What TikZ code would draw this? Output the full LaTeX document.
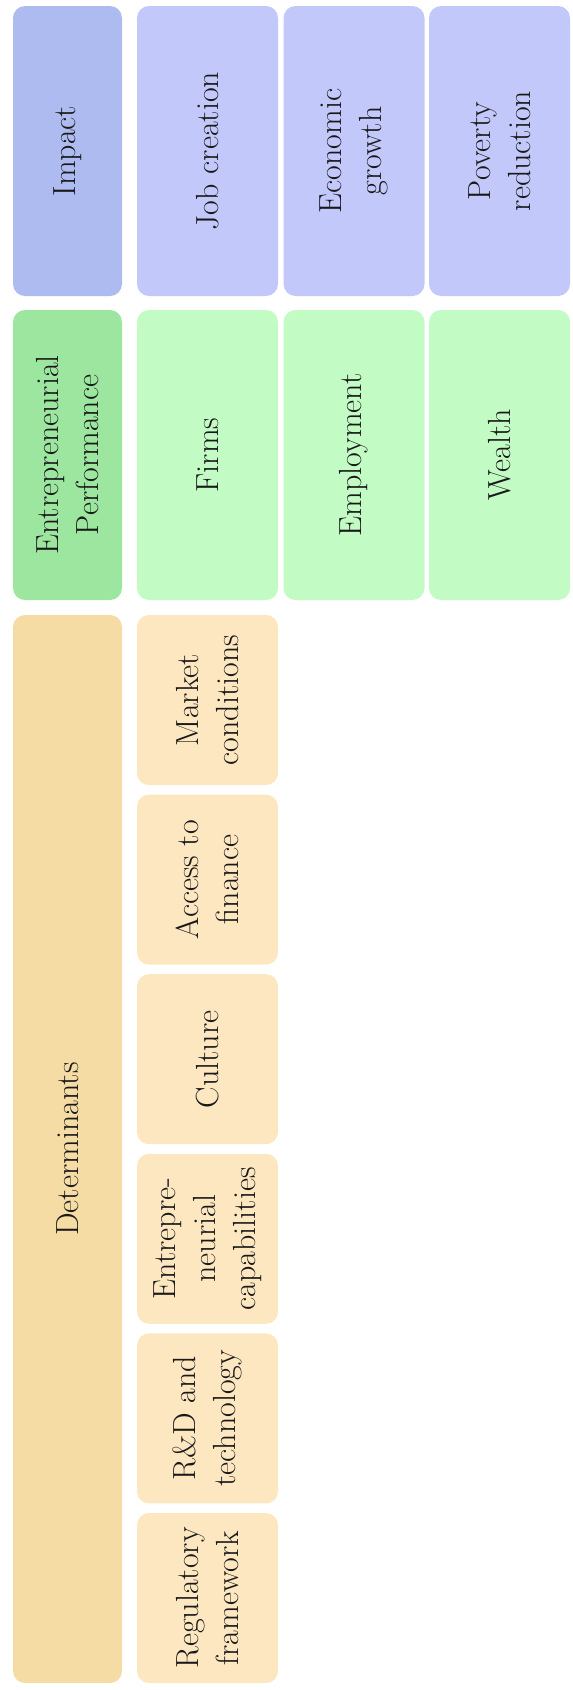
\documentclass[tikz,border=0pt]{standalone}
\usepackage{tikz}
\usetikzlibrary{positioning}
\definecolor{impacthdr}{RGB}{173,187,240}
\definecolor{impactcell}{RGB}{195,200,251}
\definecolor{perfhdr}{RGB}{156,230,160}
\definecolor{perfcell}{RGB}{195,251,197}
\definecolor{dethdr}{RGB}{245,219,164}
\definecolor{detcell}{RGB}{253,231,193}
\definecolor{mytext}{RGB}{25,25,25}
\tikzset{
  cell/.style={rectangle, rounded corners=12pt, draw=none, rotate=90,
    align=center, inner sep=0pt, text=mytext,
    font=\fontsize{32}{40}\selectfont},
  hdr/.style={cell, minimum height=109pt},
  wide/.style={cell, minimum height=141pt}
}

\begin{document}
\begin{tikzpicture}[x=1pt, y=-1pt]
  \useasboundingbox (0,0) rectangle (573,1690);

  % Impact row
  \node[hdr, fill=impacthdr, minimum width=290pt] (impact) at (67.5,151) {Impact};
  \node[wide, fill=impactcell, minimum width=290pt] (jobs) at (207.5,151) {Job creation};
  \node[wide, fill=impactcell, minimum width=290pt] (growth) at (354,151) {Economic\\growth};
  \node[wide, fill=impactcell, minimum width=290pt] (poverty) at (499.5,151) {Poverty\\reduction};

  % Entrepreneurial performance row
  \node[hdr, fill=perfhdr, minimum width=290pt] (perf) at (67.5,455) {Entrepreneurial\\Performance};
  \node[wide, fill=perfcell, minimum width=290pt] (firms) at (207.5,455) {Firms};
  \node[wide, fill=perfcell, minimum width=290pt] (employ) at (354,455) {Employment};
  \node[wide, fill=perfcell, minimum width=290pt] (wealth) at (499.5,455) {Wealth};

  % Determinants column
  \node[hdr, fill=dethdr, minimum width=1068pt] (det) at (67.5,1149) {Determinants};
  \foreach \name/\txt [count=\i from 0] in {market/Market\\conditions, finance/Access to\\finance,
      culture/Culture, capab/Entrepre-\\neurial\\capabilities,
      rnd/R\&D and\\technology, regul/Regulatory\\framework}
    \node[wide, fill=detcell, minimum width=170pt] (\name) at (207.5,700+179.6*\i) {\txt};
\end{tikzpicture}
\end{document}
